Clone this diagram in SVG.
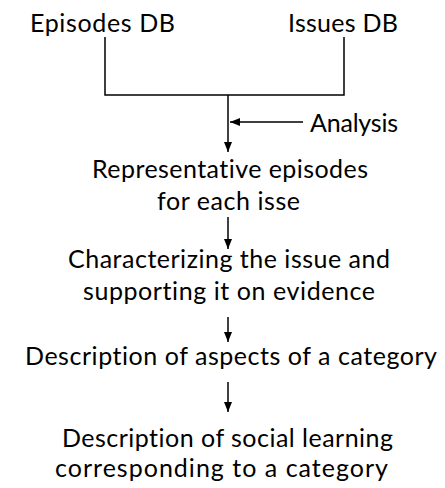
<svg xmlns="http://www.w3.org/2000/svg" width="445" height="488" viewBox="0 0 445 488">
  <style>
    .lbl { font-family: Lato, "Open Sans", "Liberation Sans", sans-serif; font-size: 25px; fill: #000; font-variant-ligatures: none; }
    .wire { fill: none; stroke: #000; stroke-width: 1.5; }
  </style>
  <defs>
    <marker id="head" viewBox="0 0 10 8" refX="10" refY="4" markerWidth="10" markerHeight="8" markerUnits="userSpaceOnUse" orient="auto">
      <path d="M0,0 L10,4 L0,8 Z" fill="#000"/>
    </marker>
  </defs>

  <g id="episodes-db"><text class="lbl" x="30" y="32" textLength="145" lengthAdjust="spacing">Episodes DB</text></g>
  <g id="issues-db"><text class="lbl" x="288" y="32" textLength="110" lengthAdjust="spacing">Issues DB</text></g>
  <g id="analysis"><text class="lbl" x="310" y="132" textLength="88" lengthAdjust="spacing">Analysis</text></g>
  <g id="representative">
    <text class="lbl" x="92" y="178" textLength="276" lengthAdjust="spacing">Representative episodes</text>
    <text class="lbl" x="157" y="210" textLength="143" lengthAdjust="spacing">for each isse</text>
  </g>
  <g id="characterizing">
    <text class="lbl" x="68" y="268" textLength="322" lengthAdjust="spacing">Characterizing the issue and</text>
    <text class="lbl" x="83" y="300" textLength="292" lengthAdjust="spacing">supporting it on evidence</text>
  </g>
  <g id="aspects"><text class="lbl" x="25" y="365" textLength="412" lengthAdjust="spacing">Description of aspects of a category</text></g>
  <g id="social-learning">
    <text class="lbl" x="62" y="447" textLength="331" lengthAdjust="spacing">Description of social learning</text>
    <text class="lbl" x="55" y="477" textLength="333" lengthAdjust="spacing">corresponding to a category</text>
  </g>

  <g id="connectors">
    <path class="wire" d="M105,37 V95 H344 V37"/>
    <path class="wire" d="M228,95 V152" marker-end="url(#head)"/>
    <path class="wire" d="M303,122 H230" marker-end="url(#head)"/>
    <path class="wire" d="M228,217 V249" marker-end="url(#head)"/>
    <path class="wire" d="M228,317 V342" marker-end="url(#head)"/>
    <path class="wire" d="M228,382 V412" marker-end="url(#head)"/>
  </g>
</svg>
